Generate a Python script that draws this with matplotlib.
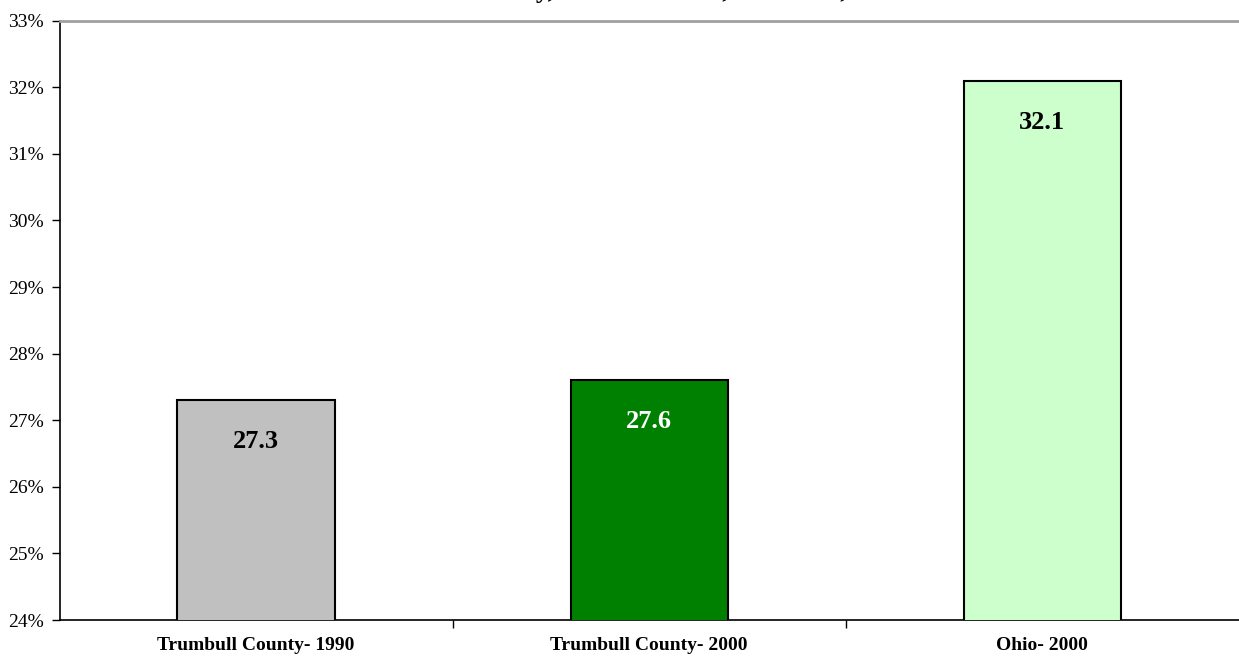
import numpy as np
import matplotlib
matplotlib.use('Agg')
import matplotlib.pyplot as plt
from matplotlib.ticker import FuncFormatter

# Data
categories = ['Trumbull County- 1990', 'Trumbull County- 2000', 'Ohio- 2000']
values = [27.3, 27.6, 32.1]
bar_colors = ['#C0C0C0', '#008000', '#CCFFCC']
label_colors = ['black', 'white', 'black']
y_ticks = list(range(24, 34))
title = 'Trumbull County, 1990 and 2000, and Ohio, 2000'

plt.rcParams['font.family'] = ['Liberation Serif', 'DejaVu Serif']

fig = plt.figure(figsize=(12.39, 6.61), dpi=100)
# plot area: left edge x=59.5px, bottom y=620px, top y=20.7px, runs to the right edge
ax = fig.add_axes([59.5 / 1239, (661 - 620) / 661, 1 - 59.5 / 1239, (620 - 20.7) / 661])

x = np.arange(len(categories))
ax.bar(x, values, width=0.4, color=bar_colors, edgecolor='black', linewidth=1.5, zorder=3)

for xi, v, c in zip(x, values, label_colors):
    ax.annotate(f'{v:.1f}', xy=(xi, v), xytext=(0, -30), textcoords='offset points',
                ha='center', va='center', fontsize=19, fontweight='bold', color=c, zorder=4)

ax.set_xlim(-0.5, 2.5)
ax.set_ylim(24, 33)
ax.set_yticks(y_ticks)
ax.yaxis.set_major_formatter(FuncFormatter(lambda v, p: f'{v:.0f}%'))
ax.tick_params(axis='y', direction='out', length=6, width=1, labelsize=14, pad=5.5)

ax.set_xticks([0.5, 1.5])
ax.set_xticklabels([])
ax.set_xticks(x, minor=True)
ax.set_xticklabels(categories, minor=True, fontsize=14, fontweight='bold')
ax.tick_params(axis='x', which='major', direction='out', length=6, width=1)
ax.tick_params(axis='x', which='minor', length=0, pad=12)

ax.spines['right'].set_visible(False)
ax.spines['top'].set_color('#A0A0A0')
ax.spines['top'].set_linewidth(2)
ax.spines['left'].set_linewidth(1.2)
ax.spines['bottom'].set_linewidth(1.2)

# title sits mostly above the visible canvas, as in the reference
fig.text(0.507, 1 + 2 / 661, title, ha='center', va='baseline', fontsize=19, fontweight='bold')

fig.savefig('out.png', dpi=100)
